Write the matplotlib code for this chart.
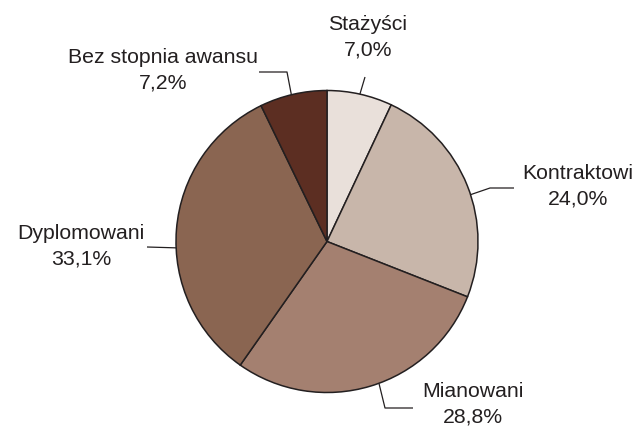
import numpy as np
import matplotlib.pyplot as plt

# dane
labels = ["Stażyści", "Kontraktowi", "Mianowani", "Dyplomowani", "Bez stopnia awansu"]
values = [7.0, 24.0, 28.8, 33.1, 7.2]
pct_text = ["7,0%", "24,0%", "28,8%", "33,1%", "7,2%"]
colors = ["#e9e0da", "#c8b6aa", "#a48070", "#8a6551", "#5c2e22"]

# uklad (piksele, y od gory)
W, H = 635, 427
cx, cy, R = 327, 242.5, 151
text_pos = [(368, 37), (578, 186), (473, 404), (81, 246), (163, 70)]
ang_off = [0, -3.6, 3.4, 7.0, 0.7]
elbow = [None, (490, 189), (385, 409), None, (287, 73)]
end = [(365, 78), (514, 189), (413, 409), (147, 248), (259, 73)]

plt.rcParams['font.family'] = ['Liberation Sans', 'DejaVu Sans']
ink = "#231f20"

fig = plt.figure(figsize=(W / 100, H / 100), dpi=100)
ax = fig.add_axes([0, 0, 1, 1])

wedges, _ = ax.pie(values, colors=colors, startangle=90, counterclock=False,
                   center=(cx, H - cy), radius=R,
                   wedgeprops=dict(edgecolor=ink, linewidth=1.1))
ax.set_xlim(0, W)
ax.set_ylim(0, H)
ax.set_aspect('equal')
ax.axis('off')

for i, w in enumerate(wedges):
    a = np.deg2rad((w.theta1 + w.theta2) / 2 + ang_off[i])
    x0 = cx + R * np.cos(a)
    y0 = (H - cy) + R * np.sin(a)
    pts = [(x0, y0)]
    if elbow[i] is not None:
        pts.append((elbow[i][0], H - elbow[i][1]))
    pts.append((end[i][0], H - end[i][1]))
    xs, ys = zip(*pts)
    ax.plot(xs, ys, color=ink, lw=0.9, solid_capstyle='butt')
    tx, ty = text_pos[i]
    ax.text(tx, H - ty, labels[i] + "\n" + pct_text[i], ha='center', va='center',
            fontsize=15.3, color=ink, linespacing=1.45)

fig.savefig("out.png", dpi=100)
